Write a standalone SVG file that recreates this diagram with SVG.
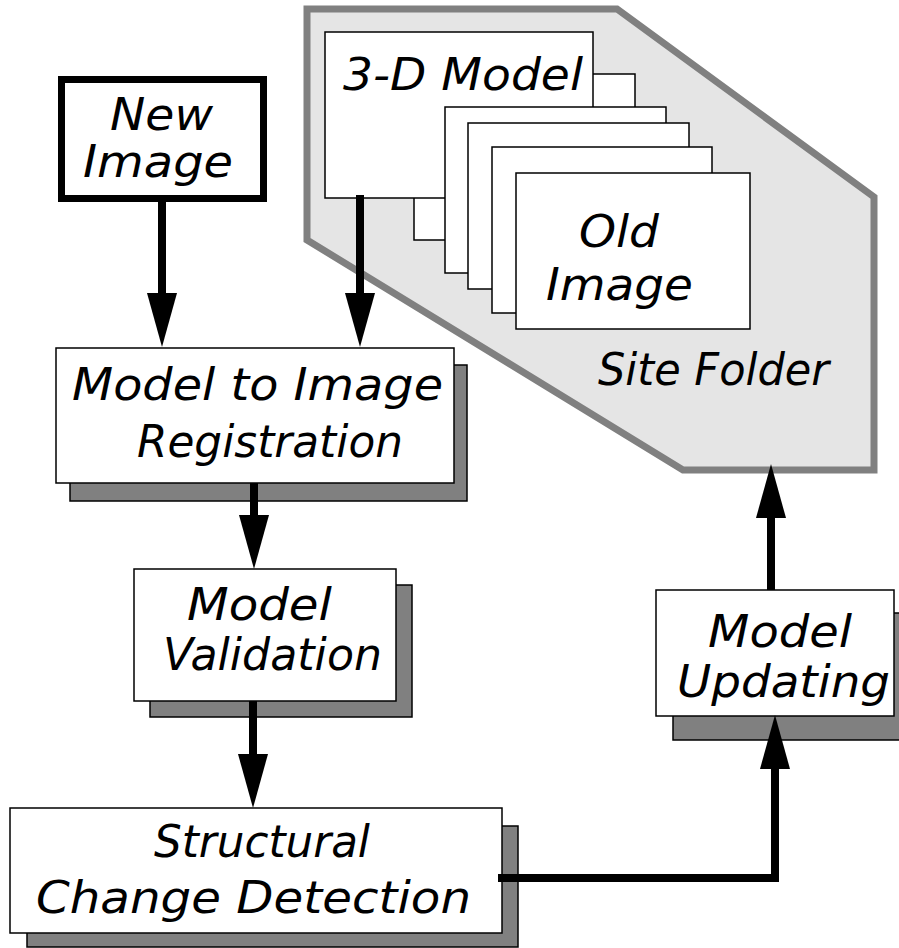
<svg xmlns="http://www.w3.org/2000/svg" width="899" height="948" viewBox="0 0 899 948">
<defs>
<style>
.box{fill:#fff;stroke:#000;stroke-width:1.5}
.shadow{fill:#808080;stroke:#000;stroke-width:1.5}
.page{fill:#fff;stroke:#000;stroke-width:1.5}
.lbl{font-family:"DejaVu Sans","Liberation Sans",sans-serif;font-style:italic;font-size:45px;fill:#000}
.conn{fill:none;stroke:#000;stroke-width:8}
</style>
<marker id="ah" viewBox="0 0 54 30" refX="4" refY="15" markerWidth="54" markerHeight="30" markerUnits="userSpaceOnUse" orient="auto">
<path d="M0,0 L54,15 L0,30 z" fill="#000"/>
</marker>
</defs>
<rect width="899" height="948" fill="#fff"/>

<g id="site-folder">
<polygon points="307,9 617,9 874,197 874,470 683,470 307,240" fill="#e5e5e5" stroke="#808080" stroke-width="7"/>
<text class="lbl" x="598" y="385" textLength="231" lengthAdjust="spacingAndGlyphs">Site Folder</text>
</g>

<g id="back-page">
<rect class="page" x="414" y="74" width="221" height="166"/>
</g>

<g id="model-3d">
<rect class="page" x="325" y="32" width="268" height="166"/>
<text class="lbl" x="343" y="90" textLength="240" lengthAdjust="spacingAndGlyphs">3-D Model</text>
</g>

<g id="old-images">
<rect class="page" x="445" y="107" width="221" height="166"/>
<rect class="page" x="468" y="123" width="221" height="166"/>
<rect class="page" x="492" y="147" width="220" height="166"/>
<rect class="page" x="516" y="173" width="234" height="156"/>
<text class="lbl" x="579" y="247" textLength="80" lengthAdjust="spacingAndGlyphs">Old</text>
<text class="lbl" x="546" y="300" textLength="147" lengthAdjust="spacingAndGlyphs">Image</text>
</g>

<g id="new-image">
<rect x="61.5" y="79.5" width="202" height="119" fill="#fff" stroke="#000" stroke-width="7"/>
<text class="lbl" x="110" y="130" textLength="103" lengthAdjust="spacingAndGlyphs">New</text>
<text class="lbl" x="83" y="177" textLength="150" lengthAdjust="spacingAndGlyphs">Image</text>
</g>

<g id="registration">
<rect class="shadow" x="70" y="365" width="397" height="136"/>
<rect class="box" x="56" y="348" width="398" height="135"/>
<text class="lbl" x="72" y="400" textLength="371" lengthAdjust="spacingAndGlyphs">Model to Image</text>
<text class="lbl" x="137" y="457" textLength="266" lengthAdjust="spacingAndGlyphs">Registration</text>
</g>

<g id="validation">
<rect class="shadow" x="150" y="585" width="262" height="132"/>
<rect class="box" x="134" y="569" width="262" height="132"/>
<text class="lbl" x="187" y="620" textLength="145" lengthAdjust="spacingAndGlyphs">Model</text>
<text class="lbl" x="163" y="670" textLength="219" lengthAdjust="spacingAndGlyphs">Validation</text>
</g>

<g id="change-detection">
<rect class="shadow" x="27" y="826" width="491" height="121"/>
<rect class="box" x="10" y="808" width="492" height="125"/>
<text class="lbl" x="154" y="857" textLength="216" lengthAdjust="spacingAndGlyphs">Structural</text>
<text class="lbl" x="36" y="913" textLength="435" lengthAdjust="spacingAndGlyphs">Change Detection</text>
</g>

<g id="updating">
<rect class="shadow" x="673" y="613" width="240" height="127"/>
<rect class="box" x="656" y="590" width="238" height="126"/>
<text class="lbl" x="708" y="647" textLength="144" lengthAdjust="spacingAndGlyphs">Model</text>
<text class="lbl" x="677" y="697" textLength="213" lengthAdjust="spacingAndGlyphs">Updating</text>
</g>

<g id="connectors">
<line class="conn" x1="162" y1="202" x2="162" y2="297" marker-end="url(#ah)"/>
<line class="conn" x1="360" y1="195" x2="360" y2="297" marker-end="url(#ah)"/>
<line class="conn" x1="254" y1="483" x2="254" y2="519" marker-end="url(#ah)"/>
<line class="conn" x1="253" y1="701" x2="253" y2="758" marker-end="url(#ah)"/>
<polyline class="conn" points="498,878 775,878 775,765" marker-end="url(#ah)"/>
<line class="conn" x1="771" y1="590" x2="771" y2="514" marker-end="url(#ah)"/>
</g>
</svg>
